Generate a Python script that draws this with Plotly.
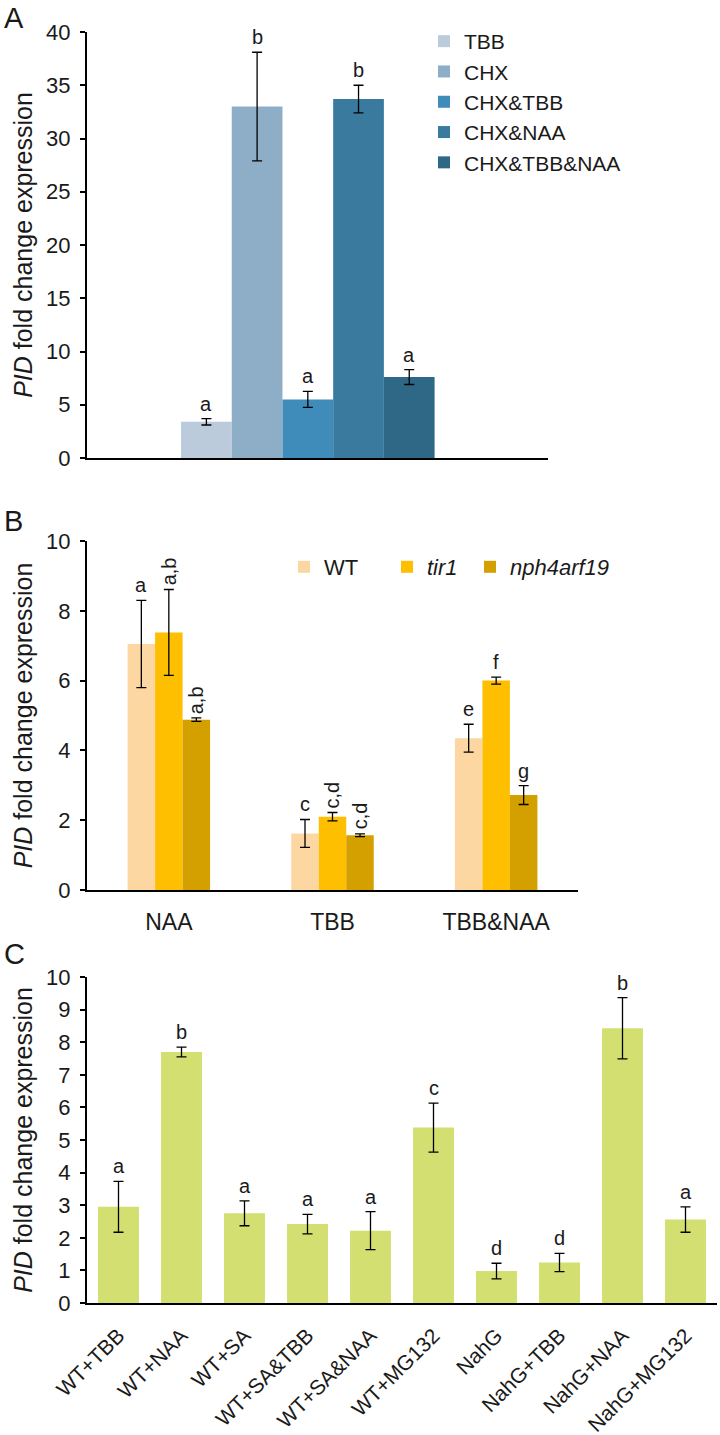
import plotly.graph_objects as go

# panel A
a_names = ["TBB", "CHX", "CHX&TBB", "CHX&NAA", "CHX&TBB&NAA"]
a_vals = [3.4, 33.0, 5.5, 33.7, 7.6]
a_err = [0.3, 5.1, 0.75, 1.3, 0.7]
a_letters = ["a", "b", "a", "b", "a"]
a_colors = ["#bccbdb", "#8eadc7", "#3f8bba", "#3a7a9f", "#2f6886"]

# panel B
b_groups = ["NAA", "TBB", "TBB&NAA"]
b_series = ["WT", "<i>tir1</i>", "<i>nph4arf19</i>"]
b_wt = [7.05, 1.62, 4.35]
b_tir1 = [7.38, 2.1, 6.0]
b_nph = [4.88, 1.57, 2.72]
b_wt_err = [1.25, 0.4, 0.4]
b_tir1_err = [1.23, 0.12, 0.1]
b_nph_err = [0.05, 0.04, 0.27]
b_letters = [["a", "c", "e"], ["a,b", "c,d", "f"], ["a,b", "c,d", "g"]]
b_colors = ["#fdd7a1", "#fdbf00", "#d3a000"]

# panel C
c_labels = ["WT+TBB", "WT+NAA", "WT+SA", "WT+SA&TBB", "WT+SA&NAA", "WT+MG132",
            "NahG", "NahG+TBB", "NahG+NAA", "NahG+MG132"]
c_vals = [2.95, 7.7, 2.75, 2.42, 2.22, 5.38, 0.98, 1.24, 8.43, 2.56]
c_err = [0.78, 0.15, 0.38, 0.3, 0.58, 0.75, 0.24, 0.28, 0.94, 0.39]
c_letters = ["a", "b", "a", "a", "a", "c", "d", "d", "b", "a"]
c_color = "#d3e071"

FONT = "Liberation Sans, Arial, sans-serif"
H = 1435


def py(px):
    return 1 - px / H


fig = go.Figure()
err_style = dict(type="data", color="black", thickness=1.3, width=5)
annots = []

# A
wa = 0.11
for j, name in enumerate(a_names):
    x = (j - 2) * wa
    fig.add_trace(go.Bar(
        x=[x], y=[a_vals[j]], width=wa, name=name, marker_color=a_colors[j],
        marker_line_width=0, error_y=dict(array=[a_err[j]], **err_style),
        xaxis="x", yaxis="y", legend="legend"))
    annots.append(dict(x=x, y=a_vals[j] + a_err[j], xref="x", yref="y", text=a_letters[j],
                       showarrow=False, yanchor="bottom", yshift=2, font=dict(size=20)))

# B  (nph4arf19 gets its own legend box so the entries can be spread out)
wb = 0.168
b_vals = [b_wt, b_tir1, b_nph]
b_errs = [b_wt_err, b_tir1_err, b_nph_err]
b_legends = ["legend2", "legend2", "legend3"]
for j, name in enumerate(b_series):
    xs = [i + (j - 1) * wb for i in range(len(b_groups))]
    fig.add_trace(go.Bar(
        x=xs, y=b_vals[j], width=wb, name=name, marker_color=b_colors[j],
        marker_line_width=0, error_y=dict(array=b_errs[j], **err_style),
        xaxis="x2", yaxis="y2", legend=b_legends[j]))
    for i, x in enumerate(xs):
        txt = b_letters[j][i]
        rot = "," in txt
        annots.append(dict(x=x, y=b_vals[j][i] + b_errs[j][i], xref="x2", yref="y2",
                           text=txt, showarrow=False, yanchor="bottom",
                           yshift=2, textangle=-90 if rot else 0, font=dict(size=20)))

# C
fig.add_trace(go.Bar(
    x=c_labels, y=c_vals, width=0.65, marker_color=c_color, marker_line_width=0,
    error_y=dict(array=c_err, **err_style), xaxis="x3", yaxis="y3", showlegend=False))
for lab, v, e, t in zip(c_labels, c_vals, c_err, c_letters):
    annots.append(dict(x=lab, y=v + e, xref="x3", yref="y3", text=t, showarrow=False,
                       yanchor="bottom", yshift=2, font=dict(size=20)))

for lab, ypx in [("A", 18), ("B", 521), ("C", 954)]:
    annots.append(dict(x=0.003, y=py(ypx), xref="paper", yref="paper", text=lab,
                       showarrow=False, xanchor="left", yanchor="middle",
                       font=dict(size=29)))

yax = dict(showline=True, linecolor="black", linewidth=2, ticks="outside", ticklen=5,
           tickwidth=2, tickcolor="black", showgrid=False, zeroline=False,
           automargin=False, tickfont=dict(size=22), ticklabelstandoff=5,
           title=dict(text="<i>PID</i> fold change expression",
                      font=dict(size=25), standoff=6))
xax = dict(showline=True, linecolor="black", linewidth=2, showgrid=False, zeroline=False,
           ticks="", automargin=False)
leg_h = dict(yanchor="top", orientation="h", font=dict(size=22),
             bgcolor="rgba(0,0,0,0)", itemwidth=30, xanchor="left")

fig.update_layout(
    width=720, height=H, margin=dict(l=0, r=0, t=0, b=0),
    plot_bgcolor="white", paper_bgcolor="white",
    font=dict(family=FONT, color="#1a1a1a"),
    xaxis=dict(xax, domain=[87 / 720, 548 / 720], range=[-0.479, 0.521],
               showticklabels=False, anchor="y"),
    yaxis=dict(yax, domain=[py(458), py(32)], range=[0, 40], dtick=5, anchor="x"),
    xaxis2=dict(xax, domain=[87 / 720, 578 / 720], range=[-0.5, 2.5],
                tickvals=list(range(len(b_groups))), ticktext=b_groups,
                tickfont=dict(size=23), ticklabelstandoff=10, anchor="y2"),
    yaxis2=dict(yax, domain=[py(890), py(541)], range=[0, 10], dtick=2, anchor="x2"),
    xaxis3=dict(xax, domain=[87 / 720, 717 / 720], range=[-0.5, 9.5], tickangle=-45,
                tickfont=dict(size=21), ticklabelstandoff=10, anchor="y3"),
    yaxis3=dict(yax, domain=[py(1303), py(977)], range=[0, 10], dtick=1, anchor="x3"),
    legend=dict(x=424 / 720, y=py(21), xanchor="left", yanchor="top",
                font=dict(size=21), bgcolor="rgba(0,0,0,0)", tracegroupgap=0,
                itemwidth=30),
    legend2=dict(leg_h, x=284 / 720, y=py(546), entrywidth=58),
    legend3=dict(leg_h, x=470 / 720, y=py(546)),
    annotations=annots,
)

# drop the browser's default 8px body margin so the page lines up with the window
fig.write_html("out.html", config={"displayModeBar": False},
               post_script="document.body.style.margin='0';")
